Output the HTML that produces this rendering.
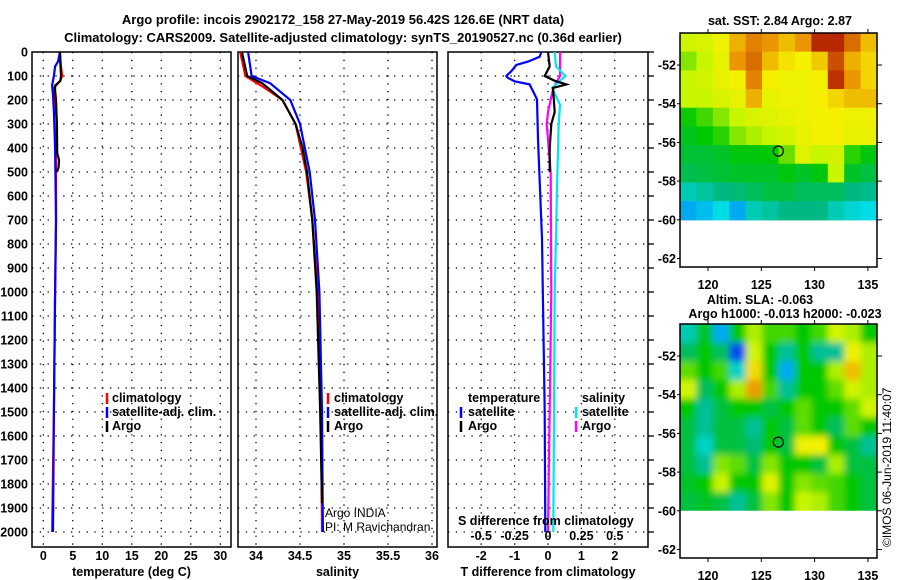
<!DOCTYPE html>
<html><head><meta charset="utf-8">
<style>
html,body{margin:0;padding:0;background:#fff;}
svg{display:block;font-family:"Liberation Sans",Arial,sans-serif;}
.b{font-weight:bold;font-size:13px;fill:#000;}
.t{font-weight:bold;font-size:12.5px;fill:#000;}
</style></head>
<body>
<svg id="fig" width="900" height="580" viewBox="0 0 900 580" xmlns="http://www.w3.org/2000/svg">
<text class="b" x="343" y="24" text-anchor="middle">Argo profile: incois 2902172_158 27-May-2019 56.42S 126.6E (NRT data)</text>
<text class="b" x="343" y="42" text-anchor="middle">Climatology: CARS2009. Satellite-adjusted climatology: synTS_20190527.nc (0.36d earlier)</text>
<g id="root"></g>
</svg>
<script>
// ---------- data ----------
const depthTicks = [0,100,200,300,400,500,600,700,800,900,1000,1100,1200,1300,1400,1500,1600,1700,1800,1900,2000];
const tempTicks = [0,5,10,15,20,25,30];
const salTicks = [34,34.5,35,35.5,36];
const salTickLabels = ["34","34.5","35","35.5","36"];
const tdiffTicks = [-2,-1,0,1,2];
const sdiffTicks = [-0.5,-0.25,0,0.25,0.5];
const sdiffTickLabels = ["-0.5","-0.25","0","0.25","0.5"];

const tClimDepth = [0,60,100,120,150,200,300,400,700,1000,1500,2000];
const tClimVal   = [2.8,3.0,3.2,2.85,1.8,2.0,2.3,2.15,2.15,2.0,1.8,1.5];
const tSatDepth  = [0,40,60,100,140,180,250,400,700,1000,1500,2000];
const tSatVal    = [2.83,2.5,2.0,1.8,1.5,1.65,1.8,2.0,2.15,2.0,1.8,1.65];
const tArgoDepth = [0,50,100,120,140,160,200,300,420,450,480,500];
const tArgoVal   = [2.83,2.9,3.0,2.9,2.0,2.0,2.15,2.3,2.35,2.66,2.6,2.3];

const sClimDepth = [0,100,150,200,300,500,700,1000,1500,2000];
const sClimVal   = [33.82,33.88,34.1,34.3,34.45,34.57,34.64,34.7,34.74,34.75];
const sSatDepth  = [0,100,130,200,300,500,700,1000,1500,2000];
const sSatVal    = [33.91,33.95,34.16,34.39,34.5,34.61,34.67,34.72,34.75,34.76];
const sArgoDepth = [0,100,130,200,300,400,500,700,1000,1500,1880];
const sArgoVal   = [33.84,33.9,34.07,34.3,34.45,34.53,34.58,34.64,34.69,34.73,34.75];

const dTSatDepth = [0,20,40,54,80,100,108,122,135,197,364,780,1500,2000];
const dTSatVal   = [-0.2,-0.25,-0.6,-0.95,-1.1,-1.25,-1.2,-1.0,-0.55,-0.33,-0.3,-0.18,-0.1,-0.08];
const dTArgoDepth = [0,60,100,120,135,150,250,300,400,500];
const dTArgoVal   = [0.0,0.05,-0.1,0.2,0.55,0.15,0.2,0.1,0.05,0.05];
const dSSatDepth = [0,60,100,150,220,300,500,1000,2000];
const dSSatVal   = [0.05,0.06,0.13,0.03,0.09,0.08,0.07,0.05,0.04];
const dSArgoDepth = [0,100,150,250,300,500,1000,2000];
const dSArgoVal   = [0.09,0.09,0.04,0.0,-0.01,0.02,0.025,0.0];

const lonTicks = [120,125,130,135];
const latTicks = [-52,-54,-56,-58,-60,-62];
const sstGrid = [
[0.62,0.64,0.7,0.82,0.88,0.86,0.8,0.86,0.97,0.97,0.9,0.8],
[0.55,0.6,0.68,0.86,0.9,0.8,0.74,0.72,0.78,0.93,0.82,0.76],
[0.6,0.63,0.68,0.72,0.88,0.72,0.7,0.7,0.72,0.96,0.86,0.76],
[0.6,0.6,0.64,0.68,0.82,0.68,0.7,0.7,0.72,0.76,0.8,0.8],
[0.46,0.5,0.55,0.6,0.64,0.66,0.68,0.7,0.72,0.72,0.7,0.7],
[0.43,0.45,0.48,0.55,0.58,0.6,0.63,0.68,0.72,0.72,0.68,0.68],
[0.41,0.41,0.42,0.44,0.44,0.45,0.53,0.66,0.6,0.62,0.48,0.44],
[0.39,0.4,0.41,0.42,0.42,0.42,0.44,0.42,0.44,0.6,0.42,0.4],
[0.3,0.32,0.35,0.36,0.38,0.4,0.4,0.38,0.38,0.38,0.35,0.34],
[0.2,0.22,0.25,0.2,0.3,0.32,0.35,0.35,0.35,0.3,0.27,0.25]];
const slaGrid = [
[0.3,0.42,0.2,0.45,0.58,0.5,0.5,0.45,0.5,0.62,0.58,0.45],
[0.38,0.45,0.38,0.1,0.62,0.45,0.33,0.45,0.33,0.33,0.7,0.58],
[0.52,0.45,0.5,0.28,0.75,0.45,0.2,0.45,0.45,0.58,0.8,0.58],
[0.62,0.38,0.45,0.58,0.85,0.5,0.33,0.45,0.45,0.52,0.62,0.58],
[0.45,0.33,0.4,0.45,0.45,0.4,0.45,0.52,0.45,0.45,0.52,0.62],
[0.4,0.33,0.4,0.4,0.33,0.45,0.4,0.52,0.45,0.38,0.52,0.45],
[0.4,0.28,0.4,0.4,0.36,0.45,0.4,0.7,0.72,0.45,0.4,0.33],
[0.4,0.33,0.55,0.52,0.4,0.55,0.45,0.45,0.4,0.58,0.4,0.4],
[0.42,0.45,0.6,0.45,0.45,0.66,0.45,0.55,0.52,0.5,0.45,0.4],
[0.4,0.42,0.4,0.33,0.4,0.55,0.45,0.6,0.58,0.5,0.45,0.4]];
const argoLon = 126.6, argoLat = -56.45;

// ---------- helpers ----------
const NS="http://www.w3.org/2000/svg";
const root=document.getElementById('root');
function mk(tag,attrs,parent){const e=document.createElementNS(NS,tag);for(const k in attrs)e.setAttribute(k,attrs[k]);(parent||root).appendChild(e);return e;}
const Y0=52, PY=0.24, YB=547;
const yD=d=>Y0+d*PY;
const xT=v=>43.3+v*5.9;
const xS=v=>256+(v-34)*88;
const xDT=v=>548+v*33.4;
const xDS=v=>548+v*133.6;
const xLon=v=>708+(v-120)*10.66;
const yLat=v=>65+(-52-v)*19.35;

function panel(x0,x1,name,xticks,xfn,labels,xlabel,showDepth){
  const g=mk('g',{});
  
  
  xticks.forEach((t,i)=>{
    const l=mk('line',{x1:xfn(t),x2:xfn(t),y1:Y0,y2:YB,stroke:'#000','stroke-width':1.3,'stroke-dasharray':'1.3 6.5'},g);
    
    
    const tk=mk('text',{x:xfn(t),y:560,'text-anchor':'middle',class:'t'},g);
    tk.textContent=labels[i];
    
    
  });
  depthTicks.forEach(d=>{
    if(d>0){const l=mk('line',{x1:x0,x2:x1,y1:yD(d),y2:yD(d),stroke:'#000','stroke-width':1.3,'stroke-dasharray':'1.3 6.5'},g);
    
    }
    if(showDepth){const tk=mk('text',{x:28,y:yD(d)+4.5,'text-anchor':'end',class:'t'},g);
    tk.textContent=d;
    
    }
  });
  const r=mk('rect',{x:x0,y:Y0,width:x1-x0,height:YB-Y0,fill:'none',stroke:'#000','stroke-width':1.5},g);
  
  
  const xl=mk('text',{x:(x0+x1)/2,y:576,'text-anchor':'middle',class:'t'},g);
  xl.textContent=xlabel;
  
  
  return g;
}
function series(depths,vals,xfn,color,name){
  const pts=depths.map((d,i)=>xfn(vals[i]).toFixed(1)+','+yD(d).toFixed(1)).join(' ');
  const p=mk('polyline',{points:pts,fill:'none',stroke:color,'stroke-width':2.2});
  
  
}
function txt(x,y,s,name,anchor){const t=mk('text',{x:x,y:y,class:'t','text-anchor':anchor||'start'});t.textContent=s;
  
  return t;}
function mark(x,y,color,name){const l=mk('line',{x1:x,x2:x,y1:y-10,y2:y+1,stroke:color,'stroke-width':2.5});
  
  }

// ---------- panels ----------
panel(32,231,'temperature-panel',tempTicks,xT,tempTicks.map(String),'temperature (deg C)',true);
series(tClimDepth,tClimVal,xT,'#ff0000','temp-climatology-line');
series(tSatDepth,tSatVal,xT,'#0000ff','temp-satellite-line');
series(tArgoDepth,tArgoVal,xT,'#000000','temp-argo-line');
mark(107,403,'#ff0000','legend-climatology-mark');txt(112,402,'climatology','legend-climatology');
mark(107,417,'#0000ff','legend-satellite-mark');txt(112,416,'satellite-adj. clim.','legend-satellite');
mark(107,431,'#000','legend-argo-mark');txt(112,430,'Argo','legend-argo');

panel(238,437,'salinity-panel',salTicks,xS,salTickLabels,'salinity',false);
series(sClimDepth,sClimVal,xS,'#ff0000','sal-climatology-line');
series(sSatDepth,sSatVal,xS,'#0000ff','sal-satellite-line');
series(sArgoDepth,sArgoVal,xS,'#000000','sal-argo-line');
mark(328,403,'#ff0000','legend-s-climatology-mark');txt(334,402,'climatology','legend-s-climatology');
mark(328,417,'#0000ff','legend-s-satellite-mark');txt(334,416,'satellite-adj. clim.','legend-s-satellite');
mark(328,431,'#000','legend-s-argo-mark');txt(334,430,'Argo','legend-s-argo');
const a1=mk('text',{x:325,y:517,'font-size':12,fill:'#000'});a1.textContent='Argo INDIA';


const a2=mk('text',{x:325,y:531,'font-size':12,fill:'#000'});a2.textContent='PI: M Ravichandran';



panel(448,648,'difference-panel',tdiffTicks,xDT,tdiffTicks.map(String),'T difference from climatology',false);
depthTicks.forEach(d=>{const l=mk('line',{x1:648,x2:654,y1:yD(d),y2:yD(d),stroke:'#000','stroke-width':1.3});
  
  });
series(dSArgoDepth,dSArgoVal,xDS,'#ff00ff','sdiff-argo-line');
series(dSSatDepth,dSSatVal,xDS,'#00e5ee','sdiff-satellite-line');
series(dTArgoDepth,dTArgoVal,xDT,'#000000','tdiff-argo-line');
series(dTSatDepth,dTSatVal,xDT,'#0000ff','tdiff-satellite-line');
txt(468,402,'temperature','legend-temperature-header');
mark(461,417,'#0000ff','legend-t-satellite-mark');txt(468,416,'satellite','legend-t-satellite');
mark(461,431,'#000','legend-t-argo-mark');txt(468,430,'Argo','legend-t-argo');
txt(582,402,'salinity','legend-salinity-header');
mark(576,417,'#00e5ee','legend-s-sat-mark');txt(582,416,'satellite','legend-s-sat');
mark(576,431,'#ff00ff','legend-s-argo2-mark');txt(582,430,'Argo','legend-s-argo2');
txt(458,525,'S difference from climatology','s-axis-title');
sdiffTicks.forEach((t,i)=>txt(xDS(t),540,sdiffTickLabels[i],'s-tick-label','middle'));

// ---------- maps ----------
function cmap(v){
  const st=[[0,[0,0,160]],[0.12,[0,90,255]],[0.25,[0,220,230]],[0.35,[0,185,130]],[0.45,[0,200,0]],[0.6,[200,245,0]],[0.72,[245,240,0]],[0.86,[235,150,0]],[1,[170,10,0]]];
  for(let i=1;i<st.length;i++){if(v<=st[i][0]){const a=st[i-1],b=st[i],f=(v-a[0])/(b[0]-a[0]);
    return 'rgb('+a[1].map((c,k)=>Math.round(c+(b[1][k]-c)*f)).join(',')+')';}}
  return 'rgb(170,10,0)';
}
function map(yOff,grid,name,blur){
  const g=mk('g',{});
  
  
  const x0=680,x1=877,top=yOff,bottom=yOff+234;
  const yl=v=>yLat(v)+(yOff-33);
  if(blur){const cp=mk('clipPath',{id:'c'+yOff},g);mk('rect',{x:x0,y:top,width:x1-x0,height:yl(-60)-top},cp);}
  const outer=mk('g',blur?{'clip-path':'url(#c'+yOff+')'}:{},g);
  const gi=mk('g',blur?{filter:'url(#bl)'}:{},outer);
  const rows=grid.length,cols=grid[0].length;
  const cw=(x1-x0)/cols, ch=(yl(-60)-top)/rows;
  const pad=blur?12:0;
  grid.forEach((row,r)=>row.forEach((v,c)=>{
    const ex0=c===0?pad:0, ex1=c===cols-1?pad:0, ey0=r===0?pad:0, ey1=r===rows-1?pad:0;
    const rc=mk('rect',{x:x0+c*cw-ex0,y:top+r*ch-ey0,width:cw+0.6+ex0+ex1,height:ch+0.6+ey0+ey1,fill:cmap(v)},gi);
    
    
  }));
  const fr=mk('rect',{x:x0,y:top,width:x1-x0,height:bottom-top,fill:'none',stroke:'#000','stroke-width':1.5},g);
  
  
  lonTicks.forEach(l=>{const x=xLon(l);
    mk('line',{x1:x,x2:x,y1:top,y2:top-4,stroke:'#000'},g);
    mk('line',{x1:x,x2:x,y1:bottom,y2:bottom+4,stroke:'#000'},g);
    const t=mk('text',{x:x,y:bottom+22,'text-anchor':'middle',class:'t'},g);t.textContent=l;
    
    });
  latTicks.forEach(l=>{const y=yl(l);
    mk('line',{x1:x1,x2:x1+5,y1:y,y2:y,stroke:'#000'},g);
    mk('line',{x1:x0,x2:x0-3,y1:y,y2:y,stroke:'#000'},g);
    const t=mk('text',{x:676,y:y+4.5,'text-anchor':'end',class:'t'},g);t.textContent=l;
    
    });
  const c=mk('circle',{cx:xLon(argoLon),cy:yl(argoLat),r:5,fill:'none',stroke:'#000','stroke-width':1.2},g);
  
  
}
const defs=mk('defs',{});const flt=mk('filter',{id:'bl',x:'-10%',y:'-10%',width:'120%',height:'120%'},defs);
mk('feGaussianBlur',{stdDeviation:3.5},flt);
map(33,sstGrid,'sst-map',false);
map(324,slaGrid,'sla-map',true);
txt(780,25,'sat. SST: 2.84 Argo: 2.87','sst-map-title','middle');
txt(760,304,'Altim. SLA: -0.063','sla-map-title','middle');
txt(785,318,'Argo h1000: -0.013 h2000: -0.023','sla-map-subtitle','middle');
const ts=mk('text',{x:0,y:0,'font-size':12,fill:'#000',transform:'translate(891,547) rotate(-90)'});
ts.textContent='©IMOS 06-Jun-2019 11:40:07';


</script>
</body></html>
